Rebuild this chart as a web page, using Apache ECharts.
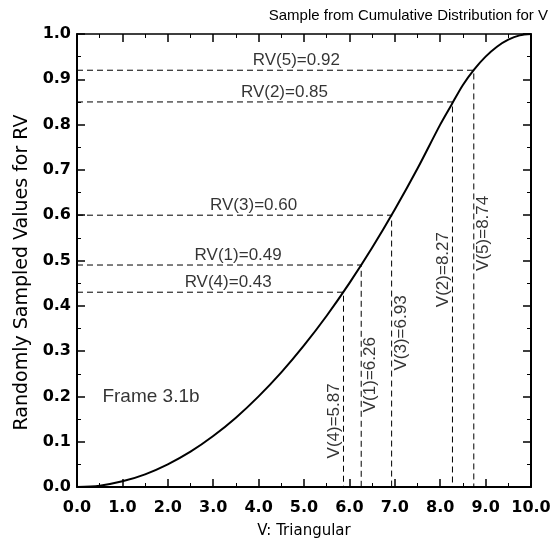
<!DOCTYPE html>
<html>
<head>
<meta charset="utf-8">
<script src="https://cdn.jsdelivr.net/npm/echarts@6/dist/echarts.min.js"></script>
<style>
html,body{margin:0;padding:0;background:#fff;}
#c{width:558px;height:547px;}
</style>
</head>
<body>
<div id="c"></div>
<script>
// Curve (cumulative distribution)
const curveX = [0, 0.5, 1, 1.5, 2, 2.5, 3, 3.5, 4, 4.5, 5, 5.5, 6, 6.5, 7, 7.5, 8, 8.25, 8.5, 8.75, 9, 9.25, 9.5, 9.75, 10];
const curveY = [0, 0.003, 0.0125, 0.028, 0.05, 0.078, 0.1125, 0.153, 0.2, 0.253, 0.3125, 0.378, 0.45, 0.528, 0.6125, 0.703, 0.8, 0.844, 0.8875, 0.922, 0.95, 0.972, 0.9875, 0.997, 1];

// Samples
const sampleIds = ['1', '2', '3', '4', '5'];
const vValues = [6.26, 8.27, 6.93, 5.87, 8.74];
const rvValues = [0.49, 0.85, 0.60, 0.43, 0.92];
const vLabelText = ['6.26', '8.27', '6.93', '5.87', '8.74'];
const rvLabelText = ['0.49', '0.85', '0.60', '0.43', '0.92'];

// Label anchors (data coords)
const rvLabelX = [3.55, 4.57, 3.89, 3.33, 4.83];
const vLabelY = [0.248, 0.48, 0.34, 0.146, 0.56];
const vLabelSide = ['right', 'left', 'right', 'left', 'right'];

const FONT = '"Liberation Sans", Arial, Helvetica, sans-serif';
const WIDE = '"DejaVu Sans", "Liberation Sans", sans-serif';

const curveData = curveX.map((x, i) => [x, curveY[i]]);

const dashStyle = { color: '#000', width: 1, type: [6, 4] };

const series = [];
series.push({
  type: 'line', data: curveData, smooth: 0.3, symbol: 'none',
  lineStyle: { color: '#000', width: 2 }, z: 5
});
sampleIds.forEach((id, i) => {
  series.push({
    type: 'line', symbol: 'none', silent: true,
    data: [[0, rvValues[i]], [vValues[i], rvValues[i]], [vValues[i], 0]],
    lineStyle: dashStyle, z: 3
  });
});
// horizontal labels
series.push({
  type: 'scatter', symbolSize: 0, silent: true,
  data: sampleIds.map((id, i) => ({ value: [rvLabelX[i], rvValues[i]], name: 'RV(' + id + ')=' + rvLabelText[i] })),
  label: {
    show: true, position: 'top', distance: 1,
    formatter: p => p.name,
    color: '#000', fontSize: 17, fontFamily: FONT
  }
});
// vertical labels
series.push({
  type: 'scatter', symbolSize: 0, silent: true,
  data: sampleIds.map((id, i) => ({
    value: [vValues[i], vLabelY[i]], name: 'V(' + id + ')=' + vLabelText[i],
    label: { verticalAlign: vLabelSide[i] === 'left' ? 'bottom' : 'top' }
  })),
  label: {
    show: true, position: 'inside', rotate: 90, align: 'center',
    padding: [1, 0, 1, 0],
    formatter: p => p.name,
    color: '#000', fontSize: 17, fontFamily: FONT
  }
});
// frame label
series.push({
  type: 'scatter', symbolSize: 0, silent: true,
  data: [{ value: [1.63, 0.2], name: 'Frame 3.1b' }],
  label: { show: true, position: 'inside', formatter: p => p.name, color: '#000', fontSize: 19, fontFamily: FONT }
});

const baseAxis = {
  type: 'value', min: 0, interval: 1, max: 10,
  axisLine: { show: true, onZero: false, lineStyle: { color: '#000', width: 2 } },
  axisTick: { show: true, inside: true, length: 8, lineStyle: { color: '#000', width: 1.5 } },
  minorTick: { show: true, splitNumber: 2, length: 4, lineStyle: { color: '#000', width: 1 } },
  splitLine: { show: false }
};

const option = {
  animation: false,
  backgroundColor: '#fff',
  title: {
    text: 'Sample from Cumulative Distribution for V',
    right: 5, top: 3,
    textStyle: { fontFamily: FONT, fontSize: 15, fontWeight: 'normal', color: '#000' }
  },
  grid: { left: 77, right: 27, top: 34, bottom: 60 },
  xAxis: [
    Object.assign({}, baseAxis, {
      position: 'bottom',
      name: 'V: Triangular', nameLocation: 'middle', nameGap: 37,
      nameTextStyle: { fontFamily: WIDE, fontSize: 15, color: '#000' },
      axisLabel: { margin: 13, color: '#000', fontWeight: 'bold', fontSize: 16, fontFamily: WIDE,
        formatter: v => v.toFixed(1) }
    }),
    Object.assign({}, baseAxis, {
      position: 'top', axisLabel: { show: false },
      axisLine: { show: true, onZero: false, lineStyle: { color: '#000', width: 1.5 } }
    })
  ],
  yAxis: [
    Object.assign({}, baseAxis, {
      min: 0, max: 1, interval: 0.1, position: 'left',
      name: 'Randomly Sampled Values for RV', nameLocation: 'middle', nameGap: 37, nameRotate: 90,
      nameTextStyle: { fontFamily: WIDE, fontSize: 19, color: '#000', padding: [0, 24, 0, 0] },
      axisLabel: { margin: 6, color: '#000', fontWeight: 'bold', fontSize: 16, fontFamily: WIDE,
        formatter: v => v.toFixed(1) }
    }),
    Object.assign({}, baseAxis, {
      min: 0, max: 1, interval: 0.1, position: 'right', axisLabel: { show: false }
    })
  ],
  series: series
};

const chart = echarts.init(document.getElementById('c'), null, { renderer: 'canvas' });
chart.setOption(option);
</script>
</body>
</html>
